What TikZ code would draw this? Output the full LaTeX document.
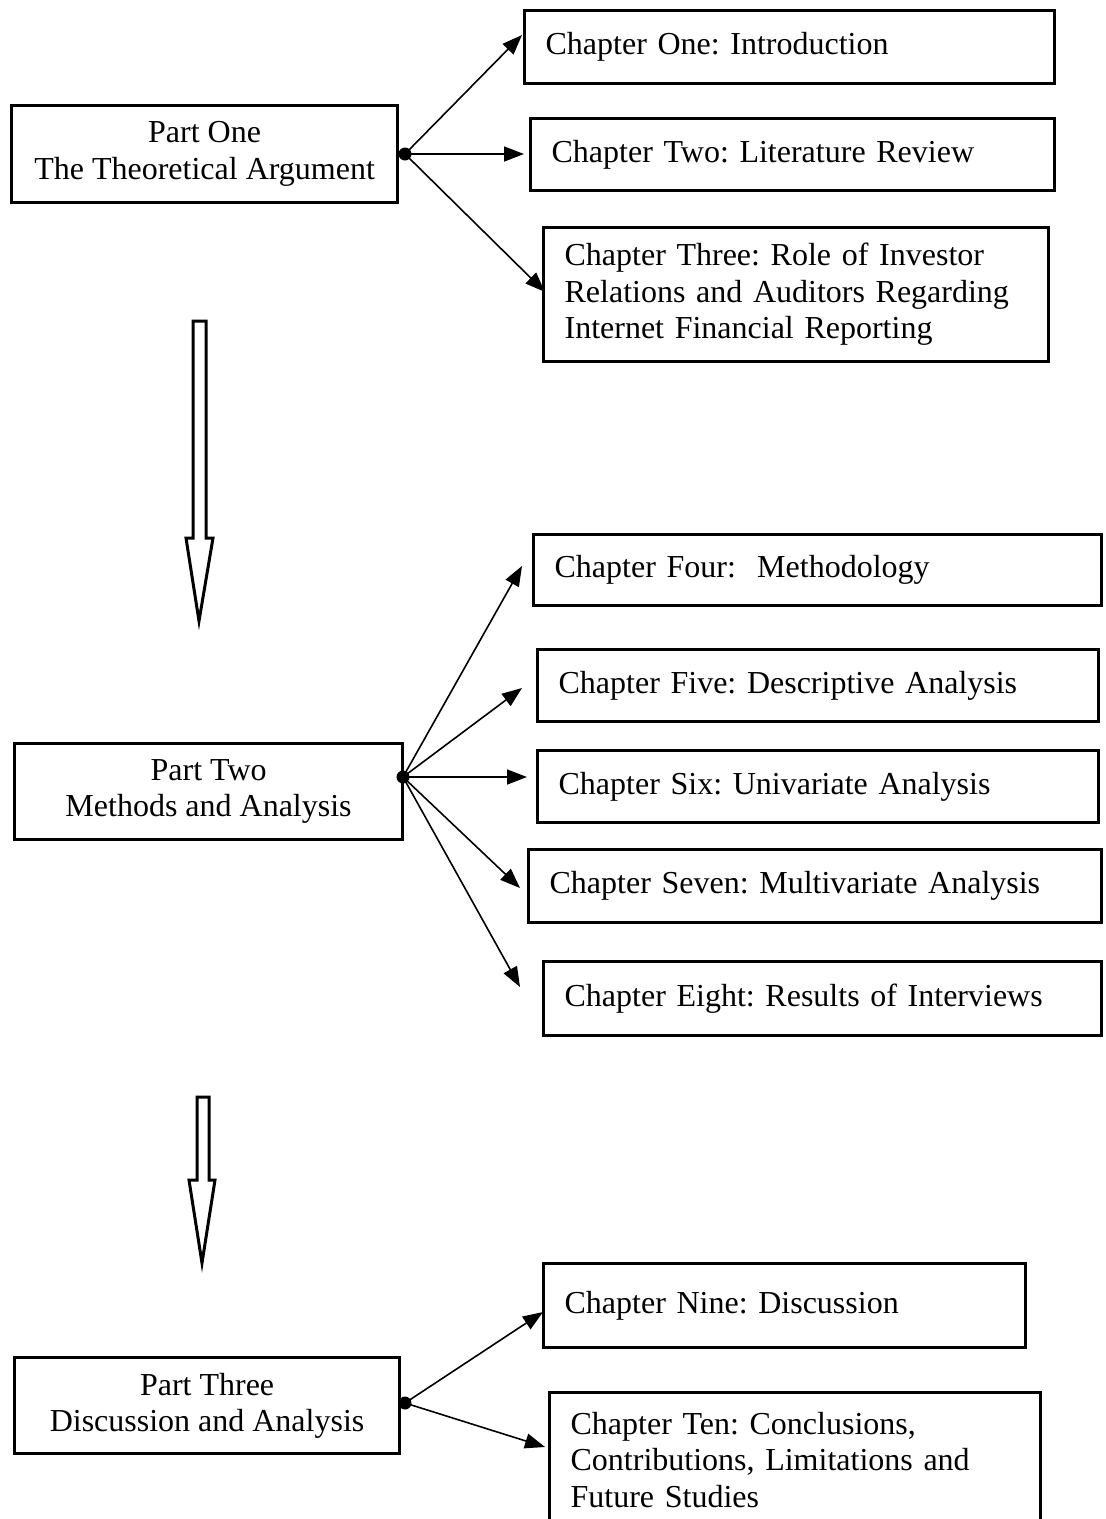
\documentclass[tikz,border=0pt]{standalone}
\usepackage{fontspec}
\setmainfont{Liberation Serif}
\usetikzlibrary{arrows.meta}
\frenchspacing
\tikzset{
  box/.style={draw, line width=3.2pt, anchor=north west, inner xsep=21pt, inner ysep=0pt,
    font=\fontsize{32}{36.5}\selectfont\frenchspacing},
  partbox/.style={box, align=center},
  chapbox/.style={box, align=left},
  conn/.style={line width=1.6pt, -{Triangle[length=20pt,width=15pt]}},
  hub/.style={circle, fill=black, inner sep=0pt, minimum size=13pt},
  hollow/.style={draw, line width=3pt, fill=white, line join=miter},
}
\begin{document}
\begin{tikzpicture}[x=1pt,y=-1pt]
\useasboundingbox (0,0) rectangle (1106,1519);
\clip (0,0) rectangle (1106,1519);
% Part One
\node[partbox, minimum width=386pt, minimum height=97pt] (p1) at (10,104) {Part One\\The Theoretical Argument};
\node[chapbox, minimum width=530pt, minimum height=73pt, text width=488pt] (c1) at (523,9) {Chapter One: Introduction};
\node[chapbox, minimum width=524pt, minimum height=72pt, text width=482pt] (c2) at (529,117) {Chapter Two: Literature Review};
\node[chapbox, minimum width=505pt, minimum height=134pt, text width=463pt] (c3) at (542,226) {Chapter Three: Role of Investor\\Relations and Auditors Regarding\\Internet Financial Reporting};
\node[hub] (d1) at (405,154) {};
\coordinate (t1) at (522,35);
\coordinate (t2) at (524,154);
\coordinate (t3) at (545,292);
\draw[conn] (d1.center) -- (t1);
\draw[conn] (d1.center) -- (t2);
\draw[conn] (d1.center) -- (t3);
% hollow arrow 1
\draw[hollow] (193,321) -- (206,321) -- (206,538) -- (213,538) -- (199,621) -- (186,538) -- (193,538) -- cycle;
% Part Two
\node[partbox, minimum width=388pt, minimum height=96pt] (p2) at (13,742) {Part Two\\Methods and Analysis};
\node[chapbox, minimum width=568pt, minimum height=71pt, text width=526pt] (c4) at (532,533) {Chapter Four:\ \ Methodology};
\node[chapbox, minimum width=561pt, minimum height=72pt, text width=519pt] (c5) at (536,648) {Chapter Five: Descriptive Analysis};
\node[chapbox, minimum width=561pt, minimum height=72pt, text width=519pt] (c6) at (536,749) {Chapter Six: Univariate Analysis};
\node[chapbox, minimum width=573pt, minimum height=73pt, text width=531pt] (c7) at (527,848) {Chapter Seven: Multivariate Analysis};
\node[chapbox, minimum width=558pt, minimum height=74pt, text width=516pt] (c8) at (542,960) {Chapter Eight: Results of Interviews};
\node[hub] (d2) at (403,777) {};
\coordinate (t4) at (522,566);
\coordinate (t5) at (522,688);
\coordinate (t6) at (527,777);
\coordinate (t7) at (520,888);
\coordinate (t8) at (520,987);
\draw[conn] (d2.center) -- (t4);
\draw[conn] (d2.center) -- (t5);
\draw[conn] (d2.center) -- (t6);
\draw[conn] (d2.center) -- (t7);
\draw[conn] (d2.center) -- (t8);
% hollow arrow 2
\draw[hollow] (197,1097) -- (209,1097) -- (209,1180) -- (215,1180) -- (202,1263) -- (189,1180) -- (197,1180) -- cycle;
% Part Three
\node[partbox, minimum width=385pt, minimum height=96pt] (p3) at (13,1356) {Part Three\\Discussion and Analysis};
\node[chapbox, minimum width=482pt, minimum height=84pt, text width=440pt] (c9) at (542,1262) {Chapter Nine: Discussion};
\node[chapbox, minimum width=491pt, minimum height=134pt, text width=449pt] (c10) at (548,1391) {Chapter Ten: Conclusions,\\Contributions, Limitations and\\Future Studies};
\node[hub] (d3) at (405,1403) {};
\coordinate (t9) at (543,1312);
\coordinate (t10) at (545,1447);
\draw[conn] (d3.center) -- (t9);
\draw[conn] (d3.center) -- (t10);
\end{tikzpicture}
\end{document}
